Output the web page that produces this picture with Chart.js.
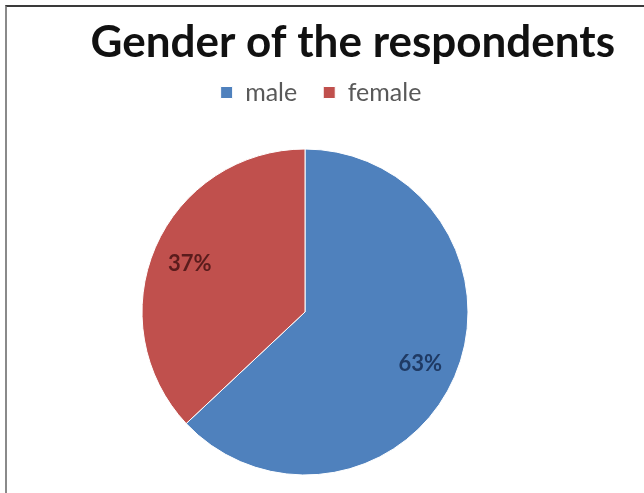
<!DOCTYPE html>
<html>
<head>
<meta charset="utf-8">
<script src="https://cdn.jsdelivr.net/npm/chart.js@4"></script>
<style>
  html, body { margin: 0; padding: 0; background: #fff; overflow: hidden; }
  #frame {
    position: absolute; left: 5px; top: 5px; width: 700px; height: 600px;
    border-top: 2px solid #3a3a3a; border-left: 2px solid #8a8a8a;
  }
  #wrap { position: absolute; left: 0; top: 0; width: 644px; height: 512px; }
</style>
</head>
<body>
<div id="frame"></div>
<div id="wrap"><canvas id="pie"></canvas></div>
<script>
const categories = ['male', 'female'];
const shares = [63, 37];
const sliceColors = ['#4f81bd', '#c0504d'];
const labelColors = ['#1f3a64', '#5a1c1c'];

// percentage text inside each slice
const sliceLabels = {
  id: 'sliceLabels',
  afterDatasetsDraw(chart) {
    const ctx = chart.ctx;
    const meta = chart.getDatasetMeta(0);
    const values = chart.data.datasets[0].data;
    const total = values.reduce((a, b) => a + b, 0);
    ctx.save();
    ctx.font = 'bold 22px Lato';
    ctx.textAlign = 'center';
    ctx.textBaseline = 'middle';
    meta.data.forEach((arc, i) => {
      const p = arc.getProps(['x', 'y', 'startAngle', 'endAngle', 'outerRadius'], true);
      const mid = (p.startAngle + p.endAngle) / 2;
      const r = p.outerRadius * 0.77;
      ctx.fillStyle = labelColors[i];
      ctx.fillText(Math.round(values[i] / total * 100) + '%', p.x + Math.cos(mid) * r, p.y + Math.sin(mid) * r + 2);
    });
    ctx.restore();
  }
};

let pie = new Chart(document.getElementById('pie'), {
  type: 'pie',
  data: {
    labels: categories,
    datasets: [{
      data: shares,
      backgroundColor: sliceColors,
      borderColor: '#ffffff',
      borderWidth: 1,
      radius: 163
    }]
  },
  options: {
    responsive: true,
    maintainAspectRatio: false,
    animation: false,
    layout: {
      padding: { left: 27, right: 29, top: 0, bottom: 3 }
    },
    plugins: {
      title: {
        display: true,
        text: 'Gender of the respondents',
        align: 'end',
        color: '#111111',
        font: { family: 'Lato', size: 44, weight: 'bold', lineHeight: '22px' },
        padding: { top: 32, bottom: 0 }
      },
      subtitle: {
        display: true,
        position: 'right',
        text: ' ',
        font: { size: 10, lineHeight: '32px' },
        padding: 0
      },
      legend: {
        position: 'top',
        labels: {
          color: '#595959',
          font: { family: 'Lato', size: 25 },
          boxWidth: 12,
          boxHeight: 12,
          padding: 26
        }
      },
      tooltip: { enabled: false }
    }
  },
  plugins: [sliceLabels]
});
</script>
</body>
</html>
